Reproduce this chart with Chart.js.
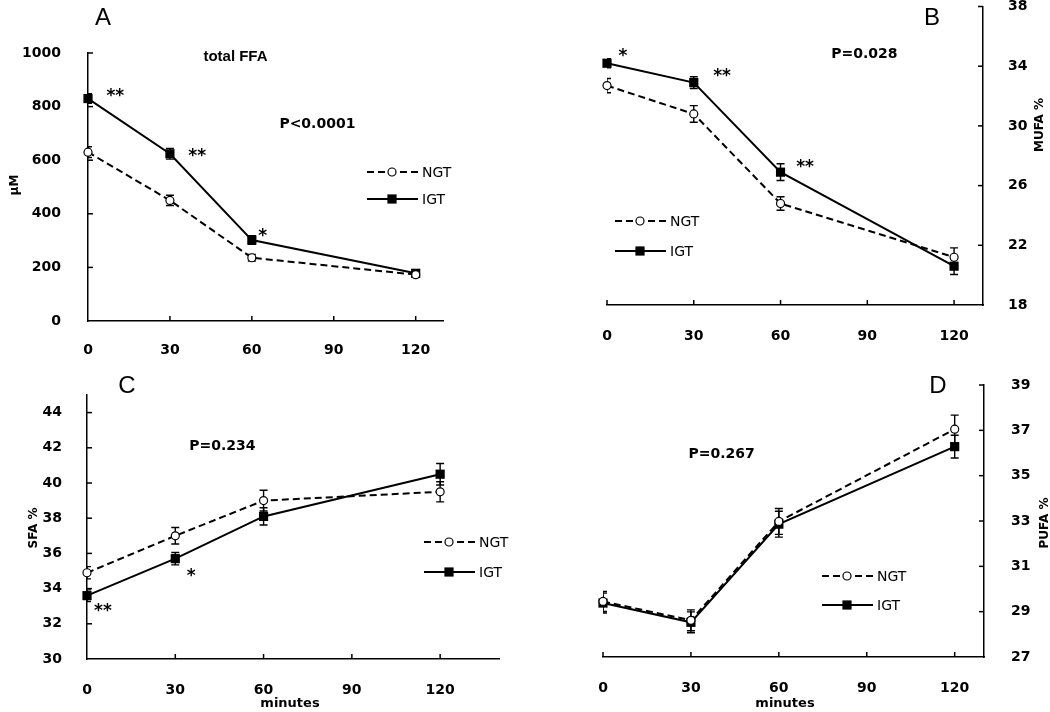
<!DOCTYPE html>
<html>
<head>
<meta charset="utf-8">
<script src="https://cdn.jsdelivr.net/npm/chart.js@4"></script>
<style>
body { margin: 0; background: #fff; }
#wrap { position: relative; width: 1050px; height: 712px; }
#wrap canvas { position: absolute; left: 0; top: 0; }
</style>
</head>
<body>
<div id="wrap">
  <canvas id="chartA" width="1050" height="712"></canvas>
  <canvas id="chartB" width="1050" height="712"></canvas>
  <canvas id="chartC" width="1050" height="712"></canvas>
  <canvas id="chartD" width="1050" height="712"></canvas>
</div>
<script>
// sampling times (minutes)
var minutes = [0, 30, 60, 120];
var xTicks = [0, 30, 60, 90, 120];

// A - total FFA (uM)
var ffaNGT = [630, 450, 236, 173];
var ffaNGTErr = [20, 19, 12, 8];
var ffaIGT = [830, 624, 302, 178];
var ffaIGTErr = [18, 20, 16, 8];
var ffaTicks = [0, 200, 400, 600, 800, 1000];

// B - MUFA %
var mufaNGT = [32.7, 30.8, 24.8, 21.2];
var mufaNGTErr = [0.48, 0.56, 0.45, 0.63];
var mufaIGT = [34.2, 32.9, 26.9, 20.6];
var mufaIGTErr = [0.31, 0.39, 0.56, 0.56];
var mufaTicks = [18, 22, 26, 30, 34, 38];

// C - SFA %
var sfaNGT = [34.9, 37.0, 39.0, 39.5];
var sfaNGTErr = [0.35, 0.47, 0.59, 0.57];
var sfaIGT = [33.6, 35.7, 38.1, 40.5];
var sfaIGTErr = [0.33, 0.35, 0.49, 0.61];
var sfaTicks = [30, 32, 34, 36, 38, 40, 42, 44];

// D - PUFA %
var pufaNGT = [29.45, 28.62, 32.98, 37.05];
var pufaNGTErr = [0.44, 0.46, 0.57, 0.62];
var pufaIGT = [29.38, 28.53, 32.86, 36.28];
var pufaIGTErr = [0.44, 0.46, 0.57, 0.5];
var pufaTicks = [27, 29, 31, 33, 35, 37, 39];

// significance marks, at data positions [minutes, value]
var ffaNotes = [['**', 10, 858], ['**', 40, 634], ['*', 64, 336]];
var mufaNotes = [['*', 5.5, 35.0], ['**', 39.8, 33.7], ['**', 68.5, 27.6]];
var sfaNotes = [['**', 5.4, 33.0], ['*', 35.4, 35.0]];
var pufaNotes = [];

var SANS = "'DejaVu Sans', Verdana, sans-serif";
var ARIAL = "'Liberation Sans', Arial, sans-serif";

function pairs(vals) {
    return minutes.map(function (m, i) { return { x: m, y: vals[i] }; });
}

function drawMarker(ctx, style, x, y) {
    ctx.save();
    ctx.setLineDash([]);
    ctx.lineWidth = 1.2;
    ctx.strokeStyle = '#000';
    if (style === 'circle') {
        ctx.fillStyle = '#fff';
        ctx.beginPath();
        ctx.arc(x, y, 4, 0, Math.PI * 2);
        ctx.fill();
        ctx.stroke();
    } else {
        ctx.fillStyle = '#000';
        ctx.fillRect(x - 4.6, y - 4.6, 9.2, 9.2);
    }
    ctx.restore();
}

function makePanel(id, p) {
    var extras = {
        id: 'extras',
        beforeDatasetsDraw: function (chart) {
            var ctx = chart.ctx, ca = chart.chartArea, ys = chart.scales.y;
            ctx.save();
            ctx.beginPath();
            ctx.rect(ca.left, ca.top - 20, ca.right - ca.left, ca.bottom - ca.top + 40);
            ctx.clip();
            ctx.strokeStyle = '#000';
            ctx.lineWidth = 1.4;
            chart.data.datasets.forEach(function (ds, i) {
                var meta = chart.getDatasetMeta(i);
                ds.data.forEach(function (pt, j) {
                    var x = meta.data[j].x;
                    var hi = ys.getPixelForValue(pt.y + ds.errors[j]);
                    var lo = ys.getPixelForValue(pt.y - ds.errors[j]);
                    ctx.beginPath();
                    ctx.moveTo(x, hi); ctx.lineTo(x, lo);
                    ctx.moveTo(x - 4, hi); ctx.lineTo(x + 4, hi);
                    ctx.moveTo(x - 4, lo); ctx.lineTo(x + 4, lo);
                    ctx.stroke();
                });
            });
            ctx.restore();
        },
        afterDraw: function (chart) {
            var ctx = chart.ctx, ca = chart.chartArea;
            var xs = chart.scales.x, ys = chart.scales.y;
            ctx.save();
            // inward tick marks
            ctx.strokeStyle = '#000';
            ctx.lineWidth = 1.5;
            xs.ticks.forEach(function (t) {
                if (p.yPos === 'left' && t.value === xs.min) return;
                var px = xs.getPixelForValue(t.value);
                ctx.beginPath();
                ctx.moveTo(px, ca.bottom);
                ctx.lineTo(px, ca.bottom - 5);
                ctx.stroke();
            });
            ys.ticks.forEach(function (t) {
                if (t.value === ys.min) return;
                var py = ys.getPixelForValue(t.value);
                var ax = p.yPos === 'left' ? ca.left : ca.right;
                var dir = p.yPos === 'left' ? 1 : -1;
                ctx.beginPath();
                ctx.moveTo(ax, py);
                ctx.lineTo(ax + dir * 5, py);
                ctx.stroke();
            });

            ctx.fillStyle = '#000';
            ctx.textAlign = 'center';
            // stars
            ctx.font = 'bold 17px ' + SANS;
            ctx.textBaseline = 'alphabetic';
            p.notes.forEach(function (n) {
                ctx.fillText(n[0], xs.getPixelForValue(n[1]), ys.getPixelForValue(n[2]) + 10);
            });
            // p value and title texts
            ctx.textBaseline = 'middle';
            p.labels.forEach(function (l) {
                ctx.font = l.font;
                ctx.fillText(l.text, xs.getPixelForValue(l.x), ys.getPixelForValue(l.y));
            });
            // panel letter
            ctx.font = '24px ' + ARIAL;
            ctx.fillText(p.letter[0], p.letter[1], p.letter[2]);
            // axis titles
            ctx.font = 'bold 12px ' + SANS;
            ctx.save();
            ctx.translate(p.yTitle[1], p.yTitle[2]);
            ctx.rotate(-Math.PI / 2);
            ctx.fillText(p.yTitle[0], 0, 0);
            ctx.restore();
            if (p.xTitle) {
                ctx.font = 'bold 13px ' + SANS;
                ctx.fillText('minutes', p.xTitle[0], p.xTitle[1]);
            }
            // legend
            var lg = p.legend;
            chart.data.datasets.forEach(function (ds, i) {
                var y = lg.y + i * lg.gap;
                ctx.save();
                ctx.strokeStyle = '#000';
                ctx.lineWidth = 2;
                ctx.setLineDash(ds.borderDash || []);
                ctx.beginPath();
                ctx.moveTo(lg.x, y);
                ctx.lineTo(lg.x + 51, y);
                ctx.stroke();
                ctx.restore();
                drawMarker(ctx, ds.pointStyle, lg.x + 25, y);
                ctx.textAlign = 'left';
                ctx.font = '14px ' + SANS;
                ctx.fillText(ds.label, lg.x + 55, y + 1);
            });
            ctx.restore();
        }
    };

    var tickFont = { family: SANS, size: 14, weight: 'bold' };

    return new Chart(document.getElementById(id), {
        type: 'line',
        data: {
            datasets: [{
                label: 'NGT',
                data: pairs(p.ngt),
                errors: p.ngtErr,
                borderColor: '#000',
                borderWidth: 2,
                borderDash: [7, 4],
                pointStyle: 'circle',
                pointRadius: 4,
                pointBorderWidth: 1.2,
                pointBackgroundColor: '#fff',
                pointBorderColor: '#000',
                clip: false
            }, {
                label: 'IGT',
                data: pairs(p.igt),
                errors: p.igtErr,
                borderColor: '#000',
                borderWidth: 2,
                pointStyle: 'rect',
                pointRadius: 6.5,
                pointBorderWidth: 0,
                pointBackgroundColor: '#000',
                pointBorderColor: '#000',
                clip: false
            }]
        },
        options: {
            responsive: false,
            animation: false,
            events: [],
            layout: { padding: p.pad },
            plugins: {
                legend: { display: false },
                tooltip: { enabled: false }
            },
            scales: {
                x: {
                    type: 'linear',
                    min: 0,
                    max: p.xMax,
                    afterBuildTicks: function (s) {
                        s.ticks = xTicks.map(function (v) { return { value: v }; });
                    },
                    afterFit: function (s) {
                        s.height = 40;
                        s.paddingLeft = 0;
                        s.paddingRight = 0;
                    },
                    grid: { display: false },
                    border: { display: true, color: '#000', width: 1.5 },
                    ticks: {
                        color: '#000', font: tickFont, padding: p.xPad, maxRotation: 0,
                        callback: function (v) { return String(v); }
                    }
                },
                y: {
                    type: 'linear',
                    position: p.yPos,
                    min: p.yTicks[0],
                    max: p.yMax,
                    afterBuildTicks: function (s) {
                        s.ticks = p.yTicks.map(function (v) { return { value: v }; });
                    },
                    afterFit: function (s) {
                        s.width = 70;
                        s.paddingTop = 0;
                        s.paddingBottom = 0;
                    },
                    grid: { display: false },
                    border: { display: true, color: '#000', width: 1.5 },
                    ticks: {
                        color: '#000', font: tickFont, padding: p.yPad,
                        callback: function (v) { return String(v); }
                    }
                }
            }
        },
        plugins: [extras]
    });
}

makePanel('chartA', {
    ngt: ffaNGT, ngtErr: ffaNGTErr, igt: ffaIGT, igtErr: ffaIGTErr,
    yTicks: ffaTicks, yMax: 1000, xMax: 130, yPos: 'left',
    pad: { left: 18, right: 607, top: 53, bottom: 351 },
    xPad: 13, yPad: 19,
    notes: ffaNotes,
    labels: [
        { text: 'total FFA', x: 54, y: 987, font: 'bold 15px ' + ARIAL },
        { text: 'P<0.0001', x: 84, y: 735, font: 'bold 14px ' + SANS }
    ],
    letter: ['A', 103, 18],
    yTitle: ['\u00b5M', 15, 185],
    legend: { x: 367, y: 172, gap: 27 }
});

makePanel('chartB', {
    ngt: mufaNGT, ngtErr: mufaNGTErr, igt: mufaIGT, igtErr: mufaIGTErr,
    yTicks: mufaTicks, yMax: 38, xMax: 130, yPos: 'right',
    pad: { left: 607, right: -3, top: 5, bottom: 367 },
    xPad: 15, yPad: 17,
    notes: mufaNotes,
    labels: [
        { text: 'P=0.028', x: 89, y: 34.78, font: 'bold 14px ' + SANS }
    ],
    letter: ['B', 932, 18],
    yTitle: ['MUFA %', 1040, 125],
    legend: { x: 615, y: 221, gap: 30 }
});

makePanel('chartC', {
    ngt: sfaNGT, ngtErr: sfaNGTErr, igt: sfaIGT, igtErr: sfaIGTErr,
    yTicks: sfaTicks, yMax: 45, xMax: 140, yPos: 'left',
    pad: { left: 17, right: 551, top: 395, bottom: 13 },
    xPad: 15, yPad: 17,
    notes: sfaNotes,
    labels: [
        { text: 'P=0.234', x: 46, y: 42.1, font: 'bold 14px ' + SANS }
    ],
    letter: ['C', 127, 386],
    yTitle: ['SFA %', 34, 528],
    xTitle: [290, 704],
    legend: { x: 424, y: 542, gap: 30 }
});

makePanel('chartD', {
    ngt: pufaNGT, ngtErr: pufaNGTErr, igt: pufaIGT, igtErr: pufaIGTErr,
    yTicks: pufaTicks, yMax: 39, xMax: 130, yPos: 'right',
    pad: { left: 603, right: -4, top: 385, bottom: 15 },
    xPad: 15, yPad: 19,
    notes: pufaNotes,
    labels: [
        { text: 'P=0.267', x: 40.5, y: 35.96, font: 'bold 14px ' + SANS }
    ],
    letter: ['D', 938, 386],
    yTitle: ['PUFA %', 1045, 523],
    xTitle: [785, 704],
    legend: { x: 822, y: 576, gap: 29 }
});
</script>
</body>
</html>
